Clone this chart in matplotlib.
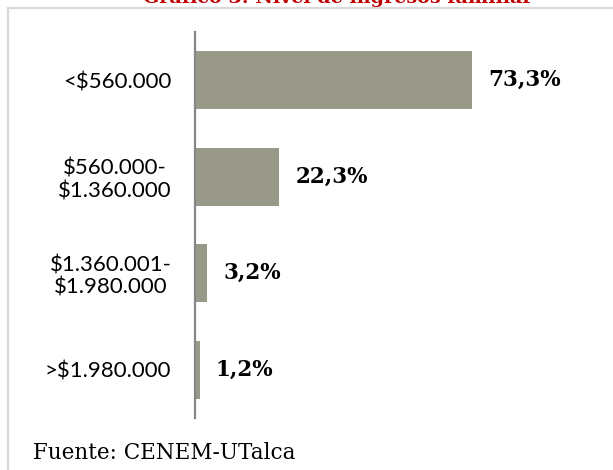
import matplotlib
matplotlib.use("Agg")
import matplotlib.pyplot as plt
from matplotlib.patches import Rectangle

# data
categories = ["<$560.000", "$560.000-\n$1.360.000", "$1.360.001-\n$1.980.000", ">$1.980.000"]
percentages = [73.3, 22.3, 3.2, 1.2]
value_labels = ["73,3%", "22,3%", "3,2%", "1,2%"]

title = "Gráfico 3: Nivel de ingresos familiar"
source = "Fuente: CENEM-UTalca"

bar_color = "#99998A"
W, H = 613, 470

fig = plt.figure(figsize=(W / 100, H / 100), dpi=100)

# light gray frame, open on the right and bottom
frame = Rectangle((8 / W, -0.05), 1.2, 1 - 8 / H + 0.05, transform=fig.transFigure,
                  fill=False, edgecolor="#D9D9D9", linewidth=1.6, zorder=0)
fig.patches.append(frame)

ax = fig.add_axes([195 / W, 52 / H, 378 / W, 386 / H])
ypos = list(range(len(categories)))
ax.barh(ypos, percentages, height=0.6, color=bar_color, edgecolor="none")

ax.set_xlim(0, 100)
ax.set_ylim(3.5, -0.5)
ax.set_yticks(ypos)
ax.set_yticklabels(categories, fontfamily="Lato", fontsize=16,
                   multialignment="center", linespacing=1.15)
ax.tick_params(axis="y", length=0, pad=17)
ax.set_xticks([])
for side in ["top", "right", "bottom"]:
    ax.spines[side].set_visible(False)
ax.spines["left"].set_color("#868686")
ax.spines["left"].set_linewidth(1.6)
ax.patch.set_alpha(0)

for y, v, lab in zip(ypos, percentages, value_labels):
    ax.annotate(lab, xy=(v, y), xytext=(16, 0), textcoords="offset pixels",
                ha="left", va="center", fontfamily="DejaVu Serif",
                fontweight="bold", fontsize=15.5, color="black")

# title sits mostly above the top edge, as in the reference crop
fig.text(338 / W, 1 - 3 / H, title, ha="center", va="baseline",
         fontfamily="DejaVu Serif", fontweight="bold", fontsize=13.8,
         color="#C00000", zorder=5)
fig.text(33 / W, 1 - 459 / H, source, ha="left", va="baseline",
         fontfamily="DejaVu Serif", fontsize=15.5, color="black")

fig.savefig("out.png", dpi=100)
